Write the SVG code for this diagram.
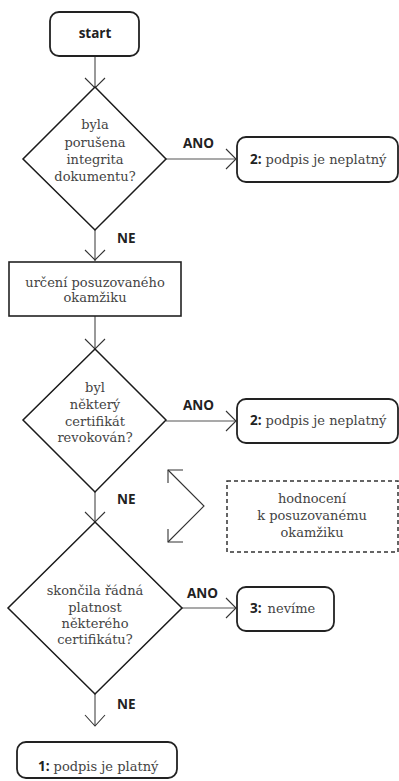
<svg xmlns="http://www.w3.org/2000/svg" width="399" height="781" viewBox="0 0 399 781">
<defs>
<style>
.bg{fill:#fff}
.term{fill:#fff;stroke:#222;stroke-width:1.8}
.proc{fill:#fff;stroke:#222;stroke-width:1.6}
.dec{fill:#fff;stroke:#1a1a1a;stroke-width:1.5}
.note{fill:#fff;stroke:#333;stroke-width:1.5;stroke-dasharray:4 3}
.ln{fill:none;stroke:#555;stroke-width:1.2}
.ah{fill:none;stroke:#333;stroke-width:1.1}
.br{fill:none;stroke:#333;stroke-width:1.1}
.s{font-family:"DejaVu Serif","Liberation Serif",serif;font-size:13px;fill:#444;text-anchor:middle}
.sl{font-family:"DejaVu Serif","Liberation Serif",serif;font-size:13px;fill:#444}
.b{font-family:"Open Sans","DejaVu Sans",sans-serif;font-weight:700;font-size:13.5px;fill:#222}
</style>
</defs>
<rect class="bg" x="0" y="0" width="399" height="781"/>
<g id="connectors">
<line class="ln" x1="95" y1="56" x2="95" y2="88"/>
<polyline class="ah" points="85,78 95,88 105,78"/>
<line class="ln" x1="95" y1="230" x2="95" y2="261"/>
<polyline class="ah" points="85,250 95,260 105,250"/>
<line class="ln" x1="95" y1="316" x2="95" y2="349"/>
<polyline class="ah" points="85,339 95,349 105,339"/>
<line class="ln" x1="95" y1="492" x2="95" y2="522"/>
<polyline class="ah" points="85,512 95,522 105,512"/>
<line class="ln" x1="95" y1="694" x2="95" y2="726"/>
<polyline class="ah" points="85,715 95,726 105,715"/>
<line class="ln" x1="166" y1="159" x2="236" y2="159"/>
<polyline class="ah" points="226,149 236,159 226,169"/>
<line class="ln" x1="166" y1="421" x2="236" y2="421"/>
<polyline class="ah" points="226,411 236,421 226,431"/>
<line class="ln" x1="182" y1="608" x2="236" y2="608"/>
<polyline class="ah" points="226,598 236,608 226,618"/>
<text class="b" x="183" y="148">ANO</text>
<text class="b" x="117" y="243">NE</text>
<text class="b" x="183" y="410">ANO</text>
<text class="b" x="117" y="504">NE</text>
<text class="b" x="187" y="598">ANO</text>
<text class="b" x="117" y="709">NE</text>
</g>
<g id="start">
<rect class="term" x="50" y="12" width="89" height="44" rx="9"/>
<text class="b" x="95" y="38" text-anchor="middle">start</text>
</g>
<g id="d1">
<polygon class="dec" points="95,87 166,159 95,230 23,159"/>
<text class="s" x="95" y="129">byla</text>
<text class="s" x="95" y="147">porušena</text>
<text class="s" x="95" y="164">integrita</text>
<text class="s" x="95" y="181">dokumentu?</text>
</g>
<g id="r1">
<rect class="term" x="237" y="137" width="161" height="45" rx="9"/>
<text x="250" y="164"><tspan class="b">2:</tspan><tspan class="sl" dx="4">podpis je neplatný</tspan></text>
</g>
<g id="p1">
<rect class="proc" x="9" y="262" width="172" height="54"/>
<text class="s" x="95" y="287">určení posuzovaného</text>
<text class="s" x="95" y="302">okamžiku</text>
</g>
<g id="d2">
<polygon class="dec" points="95,349 166,420 95,492 23,420"/>
<text class="s" x="95" y="392">byl</text>
<text class="s" x="95" y="409">některý</text>
<text class="s" x="95" y="426">certifikát</text>
<text class="s" x="95" y="442">revokován?</text>
</g>
<g id="r2">
<rect class="term" x="237" y="399" width="161" height="44" rx="9"/>
<text x="250" y="425"><tspan class="b">2:</tspan><tspan class="sl" dx="4">podpis je neplatný</tspan></text>
</g>
<g id="bracket">
<polyline class="br" points="168,470 204,506 168,542"/>
<polyline class="br" points="183,470 168,470 168,483"/>
<polyline class="br" points="183,542 168,542 168,529"/>
</g>
<g id="note">
<rect class="note" x="227" y="481" width="171" height="71"/>
<text class="s" x="312" y="503">hodnocení</text>
<text class="s" x="312" y="520">k posuzovanému</text>
<text class="s" x="312" y="537">okamžiku</text>
</g>
<g id="d3">
<polygon class="dec" points="95,522 182,608 95,694 8,608"/>
<text class="s" x="95" y="595">skončila řádná</text>
<text class="s" x="95" y="612">platnost</text>
<text class="s" x="95" y="628">některého</text>
<text class="s" x="95" y="644">certifikátu?</text>
</g>
<g id="r3">
<rect class="term" x="237" y="587" width="97" height="44" rx="9"/>
<text x="250" y="613"><tspan class="b">3:</tspan><tspan class="sl" dx="6">nevíme</tspan></text>
</g>
<g id="r4">
<rect class="term" x="17" y="742" width="160" height="36" rx="9"/>
<text x="38" y="771"><tspan class="b">1:</tspan><tspan class="sl" dx="4">podpis je platný</tspan></text>
</g>
</svg>
